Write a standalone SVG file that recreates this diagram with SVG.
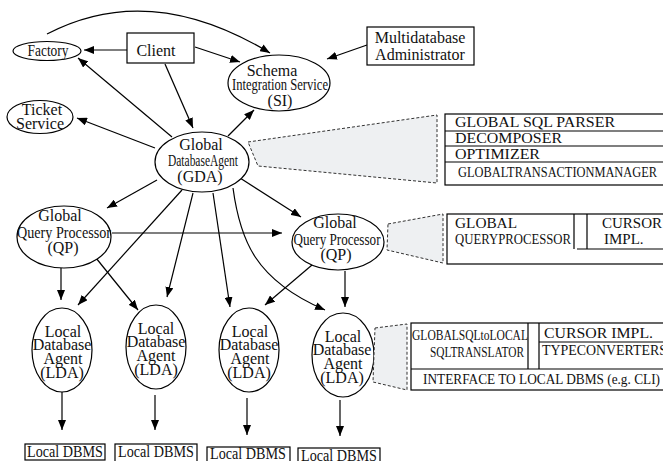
<svg xmlns="http://www.w3.org/2000/svg" width="663" height="461" viewBox="0 0 663 461">
<defs>
<marker id="ah" markerWidth="10" markerHeight="8" refX="10" refY="4" orient="auto" markerUnits="userSpaceOnUse"><path d="M0,0 L10,4 L0,8 z" fill="#000"/></marker>
<style>
.n{fill:#fff;stroke:#000;stroke-width:1.2}
.c{fill:none;stroke:#000;stroke-width:1.2;marker-end:url(#ah)}
.t{font-family:"Liberation Serif","Times New Roman",serif;font-size:16px;fill:#111;text-anchor:middle}
.p{font-family:"Liberation Serif","Times New Roman",serif;font-size:15px;fill:#111}
.d{fill:#eef0f2;stroke:#333;stroke-width:1;stroke-dasharray:3,2}
.b{fill:#fff;stroke:#000;stroke-width:1.2}
.l{stroke:#000;stroke-width:1.2;fill:none}
</style>
</defs>
<rect width="663" height="461" fill="#fff"/>
<g id="connectors">
<path class="c" d="M127,50 L84,50"/>
<path class="c" d="M195,47 L240,62"/>
<path class="c" d="M165,64 L193,128"/>
<path class="c" d="M47,34 Q150,-20 270,53"/>
<path class="c" d="M367,45 L327,59"/>
<path class="c" d="M172,137 L78,58"/>
<path class="c" d="M155,148 L77,118"/>
<path class="c" d="M228,136 L254,110"/>
<path class="c" d="M240,178 L301,217"/>
<path class="c" d="M157,180 L107,208"/>
<path class="c" d="M182,190 L78,305"/>
<path class="c" d="M193,193 L167,297"/>
<path class="c" d="M213,193 L230,307"/>
<path class="c" d="M233,188 C240,240 255,280 325,310"/>
<path class="c" d="M112,233 L282,233"/>
<path class="c" d="M61,268 L61,300"/>
<path class="c" d="M96,258 L138,310"/>
<path class="c" d="M312,265 L265,305"/>
<path class="c" d="M345,271 L345,307"/>
<path class="c" d="M62,392 L62,430"/>
<path class="c" d="M155,395 L155,430"/>
<path class="c" d="M247,398 L247,435"/>
<path class="c" d="M340,400 L340,436"/>
</g>
<g id="factory"><ellipse class="n" cx="47" cy="51" rx="34" ry="9.5"/><text class="t" x="48" y="56" textLength="41" lengthAdjust="spacingAndGlyphs">Factory</text></g>
<g id="client"><rect class="n" x="127" y="33" width="67" height="30"/><text class="t" x="156" y="56">Client</text></g>
<g id="mda"><rect class="n" x="367" y="27" width="107" height="38"/><text class="t" x="420" y="43">Multidatabase</text><text class="t" x="420" y="60">Administrator</text></g>
<g id="si"><ellipse class="n" cx="279" cy="83" rx="51" ry="28"/><text class="t" x="272" y="76">Schema</text><text class="t" x="280" y="90" textLength="96" lengthAdjust="spacingAndGlyphs">Integration Service</text><text class="t" x="280" y="106">(SI)</text></g>
<g id="ticket"><ellipse class="n" cx="40" cy="117" rx="33" ry="16.5"/><text class="t" x="42" y="115">Ticket</text><text class="t" x="40" y="129">Service</text></g>
<g id="gda"><ellipse class="n" cx="202" cy="162" rx="47" ry="30"/><text class="t" x="201" y="150">Global</text><text class="t" x="203" y="166" textLength="70" lengthAdjust="spacingAndGlyphs">DatabaseAgent</text><text class="t" x="200" y="182">(GDA)</text></g>
<g id="gda-panel">
<path class="d" d="M248,142 L437,115 L437,183 L258,166 Z"/>
<rect class="b" x="445" y="114" width="230" height="71"/>
<path class="l" d="M445,131 H663 M445,146 H663 M445,162 H663"/>
<text class="p" x="455" y="127" textLength="160" lengthAdjust="spacingAndGlyphs">GLOBAL SQL PARSER</text>
<text class="p" x="455" y="143" textLength="107" lengthAdjust="spacingAndGlyphs">DECOMPOSER</text>
<text class="p" x="455" y="159" textLength="85" lengthAdjust="spacingAndGlyphs">OPTIMIZER</text>
<text class="p" x="458" y="177" textLength="199" lengthAdjust="spacingAndGlyphs">GLOBALTRANSACTIONMANAGER</text>
</g>
<g id="qp-left"><ellipse class="n" cx="64" cy="237" rx="47" ry="31"/><text class="t" x="60" y="221">Global</text><text class="t" x="64" y="238" textLength="94" lengthAdjust="spacingAndGlyphs">Query Processor</text><text class="t" x="63" y="253">(QP)</text></g>
<g id="qp-right"><ellipse class="n" cx="338" cy="242" rx="46" ry="28"/><text class="t" x="335" y="228">Global</text><text class="t" x="337" y="245" textLength="87" lengthAdjust="spacingAndGlyphs">Query Processor</text><text class="t" x="336" y="260">(QP)</text></g>
<g id="qp-panel">
<path class="d" d="M388,224 L443,214 L443,263 L387,250 Z"/>
<rect class="b" x="447" y="214" width="230" height="50"/>
<path class="l" d="M574,214 V249 M587,214 V249 M577,249 H663"/>
<text class="p" x="455" y="228" textLength="62" lengthAdjust="spacingAndGlyphs">GLOBAL</text>
<text class="p" x="455" y="244" textLength="116" lengthAdjust="spacingAndGlyphs">QUERYPROCESSOR</text>
<text class="p" x="602" y="228">CURSOR</text>
<text class="p" x="604" y="244">IMPL.</text>
</g>
<g id="lda1"><ellipse class="n" cx="62" cy="350" rx="30" ry="42"/><text class="t" x="63" y="337">Local</text><text class="t" x="62" y="350">Database</text><text class="t" x="63" y="364">Agent</text><text class="t" x="62" y="378">(LDA)</text></g>
<g id="lda2"><ellipse class="n" cx="156" cy="347" rx="30" ry="42"/><text class="t" x="156" y="334">Local</text><text class="t" x="156" y="347">Database</text><text class="t" x="156" y="361">Agent</text><text class="t" x="156" y="375">(LDA)</text></g>
<g id="lda3"><ellipse class="n" cx="249" cy="350" rx="30" ry="42"/><text class="t" x="250" y="337">Local</text><text class="t" x="249" y="350">Database</text><text class="t" x="250" y="364">Agent</text><text class="t" x="249" y="378">(LDA)</text></g>
<g id="lda4"><ellipse class="n" cx="343" cy="355" rx="31" ry="42"/><text class="t" x="343" y="342">Local</text><text class="t" x="342" y="355">Database</text><text class="t" x="343" y="369">Agent</text><text class="t" x="342" y="383">(LDA)</text></g>
<g id="lda-panel">
<path class="d" d="M375,328 L407,324 L407,390 L373,382 Z"/>
<rect class="b" x="411" y="323" width="270" height="67"/>
<path class="l" d="M528,323 V369 M539,323 V369 M411,369 H663 M539,342 H663"/>
<text class="p" x="412" y="340" textLength="116" lengthAdjust="spacingAndGlyphs">GLOBALSQLtoLOCAL</text>
<text class="p" x="430" y="357" textLength="94" lengthAdjust="spacingAndGlyphs">SQLTRANSLATOR</text>
<text class="p" x="544" y="338" textLength="109" lengthAdjust="spacingAndGlyphs">CURSOR IMPL.</text>
<text class="p" x="542" y="355" textLength="125" lengthAdjust="spacingAndGlyphs">TYPECONVERTERS</text>
<text class="p" x="423" y="384" textLength="237" lengthAdjust="spacingAndGlyphs">INTERFACE TO LOCAL DBMS (e.g. CLI)</text>
</g>
<g id="dbms1"><rect class="n" x="25" y="444" width="80" height="16"/><text class="t" x="65" y="457" textLength="76" lengthAdjust="spacingAndGlyphs">Local DBMS</text></g>
<g id="dbms2"><rect class="n" x="115" y="444" width="82" height="18"/><text class="t" x="156" y="457" textLength="76" lengthAdjust="spacingAndGlyphs">Local DBMS</text></g>
<g id="dbms3"><rect class="n" x="207" y="447" width="83" height="16"/><text class="t" x="248" y="459" textLength="76" lengthAdjust="spacingAndGlyphs">Local DBMS</text></g>
<g id="dbms4"><rect class="n" x="298" y="448" width="82" height="16"/><text class="t" x="339" y="461" textLength="76" lengthAdjust="spacingAndGlyphs">Local DBMS</text></g>
</svg>
